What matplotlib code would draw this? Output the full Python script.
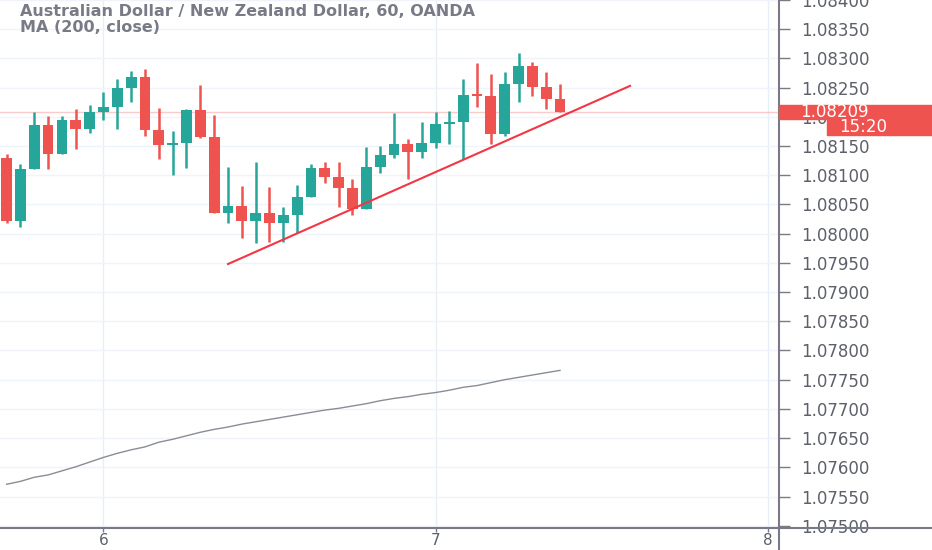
import numpy as np
import matplotlib.pyplot as plt
from matplotlib.patches import Rectangle

title = "Australian Dollar / New Zealand Dollar, 60, OANDA"
subtitle = "MA (200, close)"

# hourly AUDNZD candles, first one starts 7h before day 6
opens = [1.08130, 1.08022, 1.08111, 1.08186, 1.08137, 1.08195, 1.08179, 1.08209,
         1.08217, 1.08250, 1.08269, 1.08178, 1.08152, 1.08155, 1.08212, 1.08166,
         1.08036, 1.08048, 1.08022, 1.08036, 1.08018, 1.08032, 1.08063, 1.08113,
         1.08097, 1.08078, 1.08042, 1.08114, 1.08135, 1.08154, 1.08140, 1.08155,
         1.08188, 1.08191, 1.08239, 1.08236, 1.08171, 1.08257, 1.08287, 1.08251,
         1.08231]
highs = [1.08137, 1.08119, 1.08209, 1.08202, 1.08202, 1.08214, 1.08221, 1.08243,
         1.08265, 1.08279, 1.08282, 1.08215, 1.08176, 1.08214, 1.08255, 1.08203,
         1.08114, 1.08082, 1.08123, 1.08080, 1.08046, 1.08084, 1.08119, 1.08123,
         1.08123, 1.08094, 1.08149, 1.08150, 1.08207, 1.08162, 1.08191, 1.08209,
         1.08210, 1.08265, 1.08293, 1.08274, 1.08277, 1.08310, 1.08294, 1.08277,
         1.08257]
lows = [1.08018, 1.08012, 1.08111, 1.08111, 1.08137, 1.08145, 1.08173, 1.08195,
        1.08179, 1.08226, 1.08167, 1.08128, 1.08101, 1.08113, 1.08164, 1.08036,
        1.08018, 1.07993, 1.07984, 1.07986, 1.07986, 1.08001, 1.08063, 1.08087,
        1.08046, 1.08032, 1.08042, 1.08104, 1.08130, 1.08094, 1.08130, 1.08147,
        1.08154, 1.08128, 1.08217, 1.08154, 1.08167, 1.08226, 1.08236, 1.08214,
        1.08209]
closes = [1.08022, 1.08111, 1.08186, 1.08137, 1.08195, 1.08179, 1.08209, 1.08217,
          1.08250, 1.08269, 1.08178, 1.08152, 1.08155, 1.08212, 1.08166, 1.08036,
          1.08048, 1.08022, 1.08036, 1.08018, 1.08032, 1.08063, 1.08113, 1.08097,
          1.08078, 1.08042, 1.08114, 1.08135, 1.08154, 1.08140, 1.08155, 1.08188,
          1.08191, 1.08238, 1.08236, 1.08171, 1.08257, 1.08287, 1.08251, 1.08231,
          1.08209]
ma200 = [1.07571, 1.07576, 1.07583, 1.07587, 1.07594, 1.07601, 1.07609, 1.07617,
         1.07624, 1.07630, 1.07635, 1.07643, 1.07648, 1.07654, 1.07660, 1.07665,
         1.07669, 1.07674, 1.07678, 1.07682, 1.07686, 1.07690, 1.07694, 1.07698,
         1.07701, 1.07705, 1.07709, 1.07714, 1.07718, 1.07721, 1.07725, 1.07728,
         1.07732, 1.07737, 1.07740, 1.07745, 1.07750, 1.07754, 1.07758, 1.07762,
         1.07766]

trend_x = [6.375, 7.586]
trend_y = [1.07948, 1.08253]
day_ticks = [6, 7, 8]
last_price = 1.08209
countdown = "15:20"

GREEN = "#26a69a"
RED = "#ef5350"
TXT = "#5d606b"
GRAY = "#787b86"

n = len(opens)
x = 6 + (np.arange(n) - 7) / 24.0
o = np.array(opens)
c = np.array(closes)
up = c >= o
cols = np.where(up, GREEN, RED)

fig = plt.figure(figsize=(9.32, 5.5), dpi=100)
ax = fig.add_axes([0, 22.5 / 550, 779 / 932, 527.5 / 550])

ax.set_xlim(5.6883, 8.0346)
ax.set_ylim(1.07497, 1.08400)

yt = np.round(np.arange(1.0750, 1.08401, 0.0005), 5)
ax.set_yticks(yt)
ax.set_yticklabels(["%.5f" % v for v in yt])
ax.set_xticks(day_ticks)
ax.set_xticklabels([str(d) for d in day_ticks])

ax.yaxis.tick_right()
ax.tick_params(axis="y", length=8, width=1, color="#787b86", pad=8,
               labelsize=12, labelcolor=TXT)
ax.tick_params(axis="x", length=3, width=1, color="#787b86", pad=1,
               labelsize=11, labelcolor=TXT)

ax.grid(axis="y", color="#f0f3fa", lw=1)
ax.grid(axis="x", color="#e6eef8", lw=1)
ax.set_axisbelow(True)

for s in ["top", "left"]:
    ax.spines[s].set_visible(False)
for s in ["right", "bottom"]:
    ax.spines[s].set_color(GRAY)
    ax.spines[s].set_linewidth(1.5)
# axis lines run on to the figure edges
ax.plot([1, 1], [-0.05, 0], transform=ax.transAxes, color=GRAY, lw=1.5, clip_on=False)
ax.plot([1, 1.2], [0, 0], transform=ax.transAxes, color=GRAY, lw=1.5, clip_on=False)

# last price line
ax.axhline(last_price, color=RED, lw=1, alpha=0.3, zorder=1)

# candles
body_w = 0.0322
ax.vlines(x, lows, highs, colors=cols, lw=1.8, zorder=3)
body_h = np.maximum(np.abs(c - o), 0.00002)
ax.bar(x, body_h, bottom=np.minimum(o, c), width=body_w, color=cols, zorder=4)

# moving average
ax.plot(x, ma200, color="#8a8d96", lw=1, zorder=2)

# trend line
ax.plot(trend_x, trend_y, color="#f23645", lw=1.5, zorder=5)

# price label and countdown on the scale
yax = ax.get_yaxis_transform()
ax.add_patch(Rectangle((1.0, last_price - 0.00012), 0.2, 0.00024, transform=yax,
                       color=RED, clip_on=False, zorder=10))
ax.add_patch(Rectangle((1.0616, last_price - 0.00040), 0.2, 0.00028, transform=yax,
                       color=RED, clip_on=False, zorder=10))
ax.text(1.027, last_price, "%.5f" % last_price, transform=yax, color="white",
        fontsize=12, va="center", ha="left", zorder=11, clip_on=False)
ax.text(1.077, last_price - 0.00026, countdown, transform=yax, color="white",
        fontsize=12, va="center", ha="left", zorder=11, clip_on=False)

fig.text(20 / 932, 1 - 12 / 550, title, fontsize=11.5, fontweight="bold",
         color=GRAY, va="center", ha="left")
fig.text(20 / 932, 1 - 28 / 550, subtitle, fontsize=11.5, fontweight="bold",
         color=GRAY, va="center", ha="left")

fig.savefig("out.png", dpi=100, facecolor="white")
